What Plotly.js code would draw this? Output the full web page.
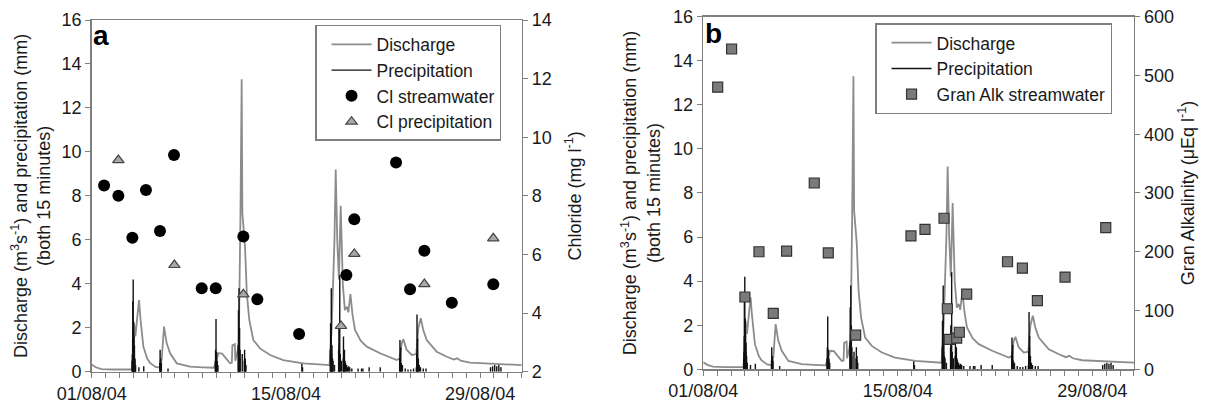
<!DOCTYPE html>
<html>
<head>
<meta charset="utf-8">
<script src="https://cdn.plot.ly/plotly-3.0.1.min.js"></script>
<style>html,body{margin:0;padding:0;background:#fff;}#chart{width:1215px;height:409px;}</style>
</head>
<body>
<div id="chart"></div>
<script>
// ---- Data (x = day of August 2004, fractional) ----
const dischargeDay = [1.0,1.3,1.7,2.5,3.9,3.97,4.05,4.15,4.3,4.41,4.5,4.72,5.0,5.2,5.6,5.95,6.05,6.21,6.4,6.65,7.13,8.09,9.0,9.8,10.0,10.13,10.4,10.7,10.97,11.1,11.14,11.32,11.35,11.5,11.6,11.72,11.81,11.86,11.95,12.05,12.18,12.36,12.65,13.13,13.86,14.8,16.26,17.7,18.15,18.3,18.5,18.59,18.7,18.82,18.95,19.1,19.25,19.39,19.5,19.65,19.8,19.98,20.4,20.83,21.79,22.99,23.2,23.35,23.47,23.7,24.07,24.4,24.55,24.72,24.9,25.15,25.87,26.6,27.1,27.36,27.6,28.27,29.96,31.9,32.0];
const dischargeVal = [0.32,0.2,0.12,0.1,0.1,0.8,2.2,1.6,2.6,3.26,2.5,1.14,0.6,0.4,0.22,0.18,0.6,2.05,1.3,0.84,0.38,0.23,0.2,0.18,0.5,0.84,0.82,0.6,0.38,0.4,1.2,1.25,0.5,0.9,1.3,7.0,13.3,7.2,6.6,5.7,3.57,2.35,1.44,1.06,0.76,0.53,0.38,0.3,0.3,2.0,6.0,9.2,6.0,4.2,7.55,4.0,2.8,2.96,2.7,3.53,2.6,1.9,1.4,1.14,0.84,0.53,0.6,1.3,1.47,1.0,0.76,0.8,2.0,2.43,1.9,1.44,0.91,0.68,0.55,0.61,0.5,0.41,0.35,0.3,0.3];

const precipDay = [3.91,3.93,3.95,3.96,3.98,3.99,4.01,4.02,4.04,4.05,4.07,4.08,4.1,4.12,4.14,4.16,4.4,4.75,5.91,5.93,5.95,5.97,6.0,6.02,6.5,9.91,9.93,9.95,9.96,9.98,10.0,10.03,10.05,10.1,11.56,11.58,11.6,11.62,11.64,11.66,11.68,11.7,11.85,12.0,12.02,12.05,12.07,12.12,16.15,16.2,18.2,18.22,18.24,18.27,18.3,18.32,18.36,18.4,18.5,18.8,18.82,18.85,18.88,18.92,19.0,19.13,19.15,19.18,19.22,19.26,19.3,19.38,19.45,19.52,19.6,19.75,20.2,20.45,20.55,21.0,21.8,23.2,23.22,23.25,23.28,23.32,23.4,23.6,23.8,24.0,24.2,24.4,24.43,24.45,24.48,24.5,24.55,24.62,24.7,24.9,25.1,29.75,29.9,30.05,30.2,30.35,30.5];
const precipVal = [0.5,0.8,1.5,3.2,1.2,4.2,1.8,2.3,1.0,1.6,0.8,1.2,0.5,0.6,0.3,0.3,0.2,0.25,0.4,1.0,0.5,0.6,0.3,0.4,0.15,0.5,1.0,0.6,2.4,0.7,0.9,0.4,0.5,0.3,1.2,2.8,1.6,3.8,1.0,2.0,0.6,1.0,0.8,0.5,1.0,0.4,0.6,0.3,0.35,0.2,1.0,2.2,1.2,3.8,0.8,1.2,0.6,0.5,0.3,1.0,2.0,1.2,4.4,0.8,0.5,0.6,1.6,0.7,1.0,0.5,0.4,0.3,0.2,0.25,0.2,0.15,0.15,0.15,0.15,0.2,0.2,0.6,1.44,0.8,1.1,0.4,0.3,0.15,0.1,0.1,0.15,0.2,0.8,2.6,1.0,1.5,0.6,0.3,0.2,0.15,0.15,0.2,0.25,0.3,0.25,0.3,0.2];

const clStreamDay = [1.89,2.92,3.93,4.91,5.92,6.93,8.93,9.94,11.93,12.94,15.95,19.36,19.93,22.94,23.95,24.98,26.96,29.95];
const clStreamVal = [8.35,8.0,6.57,8.2,6.8,9.39,4.85,4.85,6.61,4.47,3.29,5.3,7.2,9.14,4.81,6.13,4.35,4.98];

const clPrecipDay = [2.92,6.96,11.93,18.97,19.93,24.98,29.95];
const clPrecipVal = [9.22,5.64,4.64,3.56,6.02,4.99,6.55];

const alkDay = [2.04,3.04,4.0,5.01,6.04,7.0,8.99,10.0,11.97,15.95,16.96,18.33,18.57,18.71,19.24,19.43,19.96,22.9,23.97,25.05,27.04,29.97];
const alkVal = [480,545,123,200,95,201,317,198,58,227,238,257,103,51,53,63,128,183,172,117,157,241];

const dateTickDays = [1,15,29];
const dateTickText = ['01/08/04','15/08/04','29/08/04'];

// ---- build helpers ----
function spikeLine(days, vals){
  const x=[], y=[];
  days.forEach((d,i)=>{ x.push(d,d,null); y.push(0,vals[i],null); });
  return {x, y};
}
const sp = spikeLine(precipDay, precipVal);

const AX = '#7f7f7f', TXT = '#1a1a1a', FONT = 'Liberation Sans, Arial, sans-serif';
const QCOL = '#8c8c8c', PCOL = '#111111';

const traces = [
  {x: dischargeDay, y: dischargeVal, xaxis:'x', yaxis:'y', type:'scatter', mode:'lines', name:'Discharge', line:{color:QCOL, width:1.8}, legend:'legend'},
  {x: sp.x, y: sp.y, xaxis:'x', yaxis:'y', type:'scatter', mode:'lines', name:'Precipitation', line:{color:PCOL, width:1.4}, connectgaps:false, legend:'legend'},
  {x: clStreamDay, y: clStreamVal, xaxis:'x', yaxis:'y2', type:'scatter', mode:'markers', name:'Cl streamwater', marker:{symbol:'circle', size:12, color:'#000'}, legend:'legend'},
  {x: clPrecipDay, y: clPrecipVal, xaxis:'x', yaxis:'y2', type:'scatter', mode:'markers', name:'Cl precipitation', marker:{symbol:'triangle-up', size:10, color:'#a8a8a8', line:{color:'#444', width:1.2}}, legend:'legend'},
  {x: dischargeDay, y: dischargeVal, xaxis:'x2', yaxis:'y3', type:'scatter', mode:'lines', name:'Discharge', line:{color:QCOL, width:1.8}, legend:'legend2'},
  {x: sp.x, y: sp.y, xaxis:'x2', yaxis:'y3', type:'scatter', mode:'lines', name:'Precipitation', line:{color:PCOL, width:1.4}, connectgaps:false, legend:'legend2'},
  {x: alkDay, y: alkVal, xaxis:'x2', yaxis:'y4', type:'scatter', mode:'markers', name:'Gran Alk streamwater', marker:{symbol:'square', size:10, color:'#7a7a7a', line:{color:'#333', width:1.2}}, legend:'legend2'}
];

const tickfont = {family:FONT, size:18, color:TXT};
const titlefont = {family:FONT, size:18, color:TXT};
function xax(domain, anchor){
  return {domain, anchor, range:[1,32], tickmode:'array', tickvals:dateTickDays, ticktext:dateTickText,
    ticks:'outside', ticklen:5, tickwidth:1, tickcolor:AX,
    minor:{tickmode:'linear', tick0:1, dtick:1, ticks:'outside', ticklen:5, tickwidth:1, tickcolor:AX, showgrid:false},
    showline:true, linecolor:AX, linewidth:1.5,
    mirror:true, showgrid:false, zeroline:false, tickfont, fixedrange:true};
}
function yax(domain, anchor, range, dtick, side, title, standoff){
  return {domain, anchor, range, dtick, tick0:range[0], side, ticks:'outside', ticklen:5, tickwidth:1, tickcolor:AX,
    showline:true, linecolor:AX, linewidth:1.5, showgrid:false, zeroline:false, tickfont,
    title:{text:title, font:titlefont, standoff}, fixedrange:true};
}
const leftTitle = 'Discharge (m<sup>3</sup>s<sup>-1</sup>) and precipitation (mm)<br>(both 15 minutes)';

const legendCommon = {bgcolor:'#fff', bordercolor:AX, borderwidth:1.5, font:{family:FONT, size:17.5, color:TXT},
  xanchor:'left', yanchor:'top', tracegroupgap:0, itemwidth:40, indentation:10};

const layout = {
  width:1215, height:409, margin:{l:0, r:0, t:0, b:0}, paper_bgcolor:'#fff', plot_bgcolor:'#fff',
  font:{family:FONT, color:TXT},
  xaxis: xax([0.0755, 0.4294], 'y'),
  yaxis: yax([0.0912, 0.9511], 'x', [0,16], 2, 'left', leftTitle, 6),
  yaxis2: Object.assign(yax([0.0912, 0.9511], 'x', [2,14], 2, 'right', 'Chloride (mg l<sup>-1</sup>)', 17), {overlaying:'y'}),
  xaxis2: xax([0.5788, 0.9333], 'y3'),
  yaxis3: yax([0.0971, 0.9592], 'x2', [0,16], 2, 'left', leftTitle, 8),
  yaxis4: Object.assign(yax([0.0971, 0.9592], 'x2', [0,600], 100, 'right', 'Gran Alkalinity (μEq l<sup>-1</sup>)', 8), {overlaying:'y3'}),
  legend: Object.assign({x:0.2593, y:0.9389}, legendCommon),
  legend2: Object.assign({x:0.7202, y:0.943}, legendCommon),
  showlegend:true,
  annotations:[
    {text:'<b>a</b>', xref:'paper', yref:'paper', x:0.0748, y:0.955, xanchor:'left', yanchor:'top', showarrow:false, font:{family:FONT, size:28, color:'#000'}},
    {text:'<b>b</b>', xref:'paper', yref:'paper', x:0.5790, y:0.962, xanchor:'left', yanchor:'top', showarrow:false, font:{family:FONT, size:28, color:'#000'}}
  ]
};

Plotly.newPlot('chart', traces, layout, {staticPlot:true, displayModeBar:false});
</script>
</body>
</html>
